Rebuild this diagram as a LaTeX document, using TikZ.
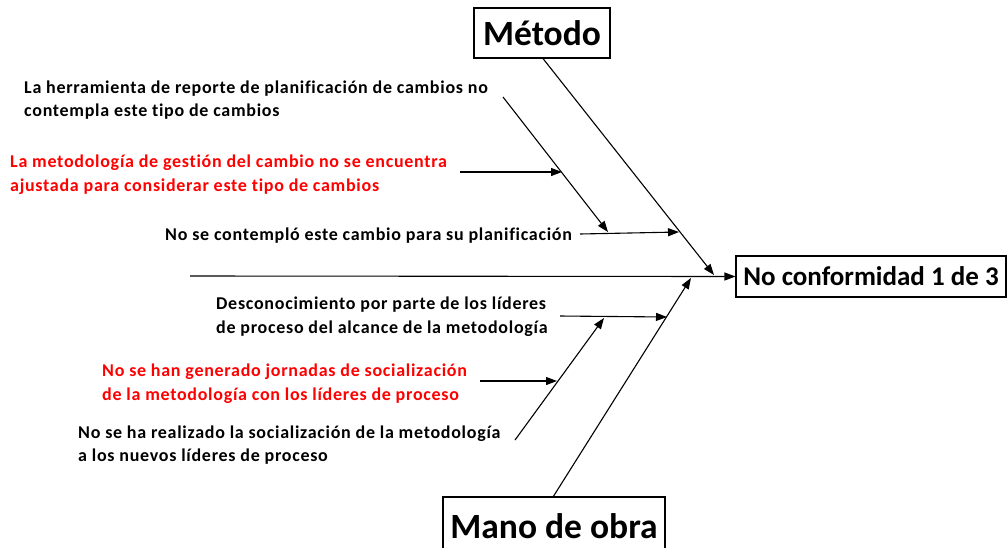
\documentclass[tikz,border=0pt]{standalone}
\usepackage{fontspec}
\setmainfont{Carlito}[Ligatures=NoCommon]
\newfontfamily\causefont{Carlito}[Ligatures=NoCommon,LetterSpace=4]
\usetikzlibrary{arrows.meta}
\begin{document}
\begin{tikzpicture}[x=1pt,y=-1pt,
  conn/.style={line width=1.1pt,-{Triangle[length=11pt,width=8pt]}},
  box/.style={draw,line width=1.1pt,inner sep=0pt,font=\bfseries},
  cause/.style={anchor=west,inner sep=0pt,align=left,font=\causefont\fontsize{18}{23.5}\selectfont\bfseries},
  redc/.style={cause,text=red}]
\useasboundingbox (0,0) rectangle (1008,547);
% boxes
\node[box,minimum width=136pt,minimum height=50pt,font=\fontsize{35.5}{40}\selectfont\bfseries] (metodo) at (542,33) {Método};
\node[box,minimum width=270pt,minimum height=41pt,font=\fontsize{27}{30}\selectfont\bfseries] (nc) at (871,276.5) {No conformidad 1 de 3};
\node[box,minimum width=222pt,minimum height=60pt,font=\fontsize{35.5}{40}\selectfont\bfseries,text depth=0pt] (mano) at (554,527) {\raisebox{2pt}{Mano de obra}};
% texts
\node[cause] (t1) at (24,100) {La herramienta de reporte de planificación de cambios no\\contempla este tipo de cambios};
\node[redc] (t2) at (10,174.5) {La metodología de gestión del cambio no se encuentra\\ajustada para considerar este tipo de cambios};
\node[cause] (t3) at (165,235.5) {No se contempló este cambio para su planificación};
\node[cause] (t4) at (216,316.5) {Desconocimiento por parte de los líderes\\de proceso del alcance de la metodología};
\node[redc] (t5) at (102,383.5) {No se han generado jornadas de socialización\\de la metodología con los líderes de proceso};
\node[cause] (t6) at (78,445) {No se ha realizado la socialización de la metodología\\a los nuevos líderes de proceso};
% coordinates
\coordinate (spineS) at (190,276);
\coordinate (mEnd) at (714,275);
\coordinate (oBot) at (553,497);
\coordinate (oEnd) at (691,278);
\coordinate (s1S) at (503,97);
\coordinate (s1E) at (608,232);
\coordinate (r1S) at (460,172);
\coordinate (r1E) at (562,172);
\coordinate (h1S) at (580,234);
\coordinate (h1E) at (679,232);
\coordinate (s2S) at (515,440);
\coordinate (s2E) at (604,318);
\coordinate (r2S) at (480,381);
\coordinate (r2E) at (557,381);
\coordinate (h2S) at (560,316);
\coordinate (h2E) at (667,317);
% connectors
\draw[conn] (spineS) -- (nc.west);
\draw[conn] (metodo.south) ++(1,0) -- (mEnd);
\draw[conn] (oBot) -- (oEnd);
\draw[conn] (s1S) -- (s1E);
\draw[conn] (r1S) -- (r1E);
\draw[conn] (h1S) -- (h1E);
\draw[conn] (s2S) -- (s2E);
\draw[conn] (r2S) -- (r2E);
\draw[conn] (h2S) -- (h2E);
\end{tikzpicture}
\end{document}
